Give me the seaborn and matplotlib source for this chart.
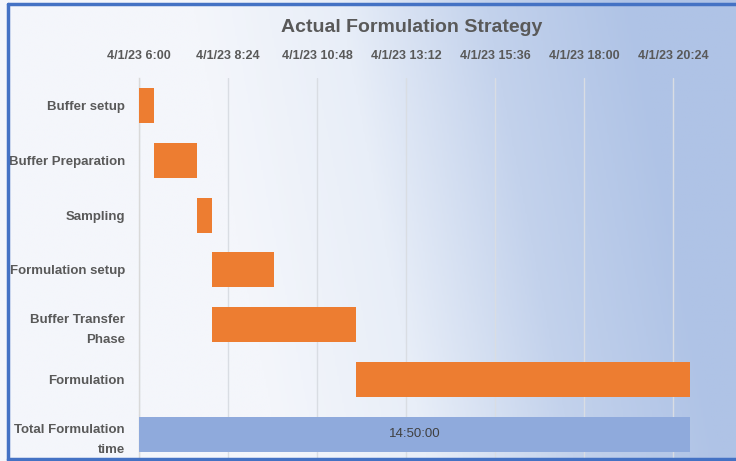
import numpy as np
import matplotlib
matplotlib.use("Agg")
import matplotlib.pyplot as plt
from matplotlib.colors import LinearSegmentedColormap
from matplotlib.lines import Line2D
import seaborn as sns

# Datos del diagrama de Gantt (horas del 4/1/23)
tareas = ["Buffer setup", "Buffer Preparation", "Sampling", "Formulation setup",
          "Buffer Transfer\nPhase", "Formulation", "Total Formulation\ntime"]
inicio = ["06:00", "06:24", "07:34", "07:58", "07:58", "11:50", "06:00"]
fin = ["06:24", "07:34", "07:58", "09:38", "11:50", "20:50", "20:50"]
colores = ["#ED7D31"] * 6 + ["#8FAADC"]
etiqueta_total = "14:50:00"
ticks_horas = [6.0, 8.4, 10.8, 13.2, 15.6, 18.0, 20.4]


def a_horas(hhmm):
    h, m = hhmm.split(":")
    return int(h) + int(m) / 60


def formato_tick(h):
    hh = int(h)
    mm = int(round((h - hh) * 60))
    return f"4/1/23 {hh}:{mm:02d}"


h_inicio = [a_horas(s) for s in inicio]
h_dur = [a_horas(e) - a_horas(s) for s, e in zip(inicio, fin)]

sns.set_theme(style="white")
plt.rcParams["font.family"] = ["Liberation Sans", "DejaVu Sans"]
texto = "#595959"

fig = plt.figure(figsize=(7.36, 4.61), dpi=100)

# Fondo degradado
fondo = fig.add_axes([0, 0, 1, 1], zorder=0)
xx, yy = np.meshgrid(np.linspace(0, 1, 400), np.linspace(0, 1, 200))
t = np.clip((xx - 0.38) / 0.6 + 0.2 * (1 - yy), 0, 1)
cmap = LinearSegmentedColormap.from_list("bg", ["#f4f6fb", "#e8eef8", "#c3d2ec", "#afc3e6"])
fondo.imshow(t, cmap=cmap, aspect="auto", extent=[0, 1, 0, 1], origin="upper", vmin=0, vmax=1)
fondo.axis("off")

ax = fig.add_axes([139 / 736, -0.001, (718 - 139) / 736, (461 - 78) / 461], zorder=1)
ax.patch.set_alpha(0)

ax.barh(range(len(tareas)), h_dur, left=h_inicio, height=0.64, color=colores,
        linewidth=0, zorder=3)

fin_total = h_inicio[-1] + h_dur[-1]
ax.text((h_inicio[-1] + fin_total) / 2, len(tareas) - 1, etiqueta_total,
        ha="center", va="center", fontsize=9.5, color="#404040", zorder=4)

ax.set_xlim(6.0, 21.6)
ax.set_ylim(len(tareas) - 0.5, -0.5)
ax.set_yticks(range(len(tareas)))
ax.set_yticklabels(tareas, fontsize=9.5, fontweight="bold", color=texto, linespacing=1.9)
ax.set_xticks(ticks_horas)
ax.set_xticklabels([formato_tick(h) for h in ticks_horas], fontsize=9,
                   fontweight="bold", color=texto)
ax.xaxis.tick_top()
ax.tick_params(axis="x", length=0, pad=12)
ax.tick_params(axis="y", length=0, pad=10)
ax.grid(axis="x", color="#d9dde3", linewidth=1, zorder=0)
ax.grid(axis="y", visible=False)
for lado in ["top", "right", "bottom"]:
    ax.spines[lado].set_visible(False)
ax.spines["left"].set_color("#d9d9d9")
ax.spines["left"].set_linewidth(1)

fig.text(0.559, 0.94, "Actual Formulation Strategy", ha="center", va="center",
         fontsize=14, fontweight="bold", color=texto)

# Marco azul
for coords in [([8 / 736, 8 / 736], [0, 1 - 4 / 461]),
               ([8 / 736, 1], [1 - 4 / 461, 1 - 4 / 461]),
               ([8 / 736, 1], [2 / 461, 2 / 461])]:
    fig.add_artist(Line2D(coords[0], coords[1], color="#4472C4", linewidth=2.5, zorder=5))

fig.savefig("out.png", dpi=100)
